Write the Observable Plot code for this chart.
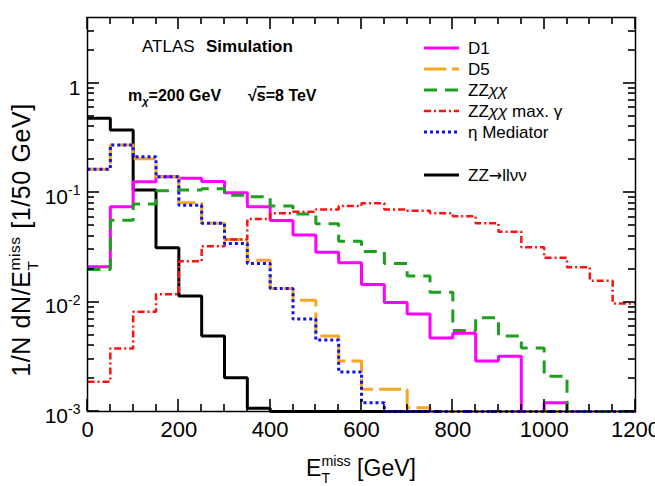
<!DOCTYPE html>
<html>
<head>
<meta charset="utf-8">
<script src="https://cdn.jsdelivr.net/npm/d3@7"></script>
<script src="https://cdn.jsdelivr.net/npm/@observablehq/plot@0.6"></script>
<style>
  body { margin: 0; background: #fff; }
  #chart svg { display: block; font-family: 'Liberation Sans', Arial, Helvetica, sans-serif; }
</style>
</head>
<body>
<div id="chart"></div>
<script>
// Missing transverse momentum, normalised to unit area, 50 GeV bins from 0 to 1200 GeV.
const binLow = [0, 50, 100, 150, 200, 250, 300, 350, 400, 450, 500, 550,
                600, 650, 700, 750, 800, 850, 900, 950, 1000, 1050, 1100, 1150];
const xRange = [0, 1200];
const yRange = [1e-3, 4];

const d1 = [0.021, 0.0745, 0.126, 0.140, 0.136, 0.127, 0.100, 0.0745, 0.0556, 0.041, 0.0285, 0.0229,
            0.0145, 0.0099, 0.0078, 0.0047, 0.0052, 0.0029, 0.0032, 0, 0.0012, 0, 0, 0];
const d5 = [0.164, 0.273, 0.205, 0.140, 0.081, 0.0525, 0.0373, 0.0242, 0.0133, 0.0104, 0.0049, 0.0029,
            0.0016, 0.0016, 0.00108, 0, 0, 0, 0, 0, 0, 0, 0, 0];
const zzxx = [0.0199, 0.056, 0.079, 0.104, 0.106, 0.109, 0.095, 0.092, 0.0755, 0.064, 0.052, 0.036,
              0.029, 0.0226, 0.0173, 0.0123, 0.0055, 0.0072, 0.0049, 0.0038, 0.0021, 0, 0, 0];
const zzxxMaxGamma = [0.00187, 0.00377, 0.00815, 0.0118, 0.0237, 0.0325, 0.0373, 0.0574, 0.065, 0.067, 0.0704, 0.0755,
                      0.080, 0.0704, 0.0685, 0.065, 0.061, 0.0526, 0.0439, 0.0317, 0.0254, 0.0208, 0.0157, 0.0097];
const etaMediator = [0.164, 0.273, 0.213, 0.140, 0.077, 0.0525, 0.0344, 0.0226, 0.0133, 0.0070, 0.0045, 0.0023,
                     0.0012, 0, 0, 0, 0, 0, 0, 0, 0, 0, 0, 0];
const zzToLLNuNu = [0.48, 0.375, 0.106, 0.0314, 0.0114, 0.0049, 0.00203, 0.00107, 0, 0, 0, 0,
                    0, 0, 0, 0, 0, 0, 0, 0, 0, 0, 0, 0];

const xMajor = [0, 200, 400, 600, 800, 1000, 1200];
const xMinor = [50, 100, 150, 250, 300, 350, 450, 500, 550, 650, 700, 750, 850, 900, 950, 1050, 1100, 1150];
const yMajor = [1e-3, 1e-2, 1e-1, 1];
const yMinor = [2e-3, 3e-3, 4e-3, 5e-3, 6e-3, 7e-3, 8e-3, 9e-3,
                2e-2, 3e-2, 4e-2, 5e-2, 6e-2, 7e-2, 8e-2, 9e-2,
                0.2, 0.3, 0.4, 0.5, 0.6, 0.7, 0.8, 0.9, 2, 3];

// Legend order; "z" sets the drawing order (higher sits on top).
const series = [
  {label: [["D1"]],                           values: d1,           stroke: "#ff00ff", width: 3,   dash: null,      z: 1},
  {label: [["D5"]],                           values: d5,           stroke: "#f5a623", width: 3,   dash: "22,6",    z: 2},
  {label: [["ZZ"], ["χχ", "i"]],              values: zzxx,         stroke: "#1f9f1f", width: 3,   dash: "13,8",    z: 3},
  {label: [["ZZ"], ["χχ", "i"], [" max. γ"]], values: zzxxMaxGamma, stroke: "#ff1010", width: 2.5, dash: "7,3,2,3", z: 4},
  {label: [["η Mediator"]],                   values: etaMediator,  stroke: "#1010f0", width: 3,   dash: "3,3",     z: 5},
  {label: [["ZZ"], ["→", "arrow"], ["llνν"]], values: zzToLLNuNu,   stroke: "#000000", width: 3,   dash: null,      z: 0}
];

// Histogram outline: one point per bin edge, empty bins rest on the lower edge.
function outline(s) {
  const pts = binLow.map((x, i) => ({x, y: Math.max(s.values[i], yRange[0])}));
  pts.push({x: xRange[1], y: Math.max(s.values[s.values.length - 1], yRange[0])});
  return pts;
}

const fmtPow = v => v === 1 ? "1" : "10^" + Math.round(Math.log10(v));

const plot = Plot.plot({
  width: 655,
  height: 486,
  marginLeft: 87,
  marginRight: 20,
  marginTop: 17,
  marginBottom: 75,
  x: {domain: xRange, label: null},
  y: {type: "log", domain: yRange, label: null},
  marks: [
    ...[...series].sort((a, b) => a.z - b.z).map(s => Plot.line(outline(s), {
      x: "x", y: "y", curve: "step-after",
      stroke: s.stroke, strokeWidth: s.width, strokeDasharray: s.dash,
      strokeLinejoin: "miter", strokeLinecap: "butt"
    })),
    Plot.frame({stroke: "#000", strokeWidth: 1.5}),
    Plot.axisX({anchor: "bottom", ticks: xMajor, tickSize: 0, tickPadding: 10, fontSize: 22, label: null,
                tickFormat: d => String(d)}),
    Plot.axisY({anchor: "left", ticks: yMajor, tickSize: 0, tickPadding: 7, fontSize: 21, label: null,
                tickFormat: fmtPow, dy: 4.5})
  ]
});

document.getElementById("chart").appendChild(plot);

const svg = d3.select(plot);
const FONT = "'Liberation Sans', Arial, Helvetica, sans-serif";
const sx = plot.scale("x"), sy = plot.scale("y");
const frameL = sx.apply(xRange[0]), frameR = sx.apply(xRange[1]);
const frameB = sy.apply(yRange[0]), frameT = sy.apply(yRange[1]);

// Inward ticks on all four sides, placed through the plot's scales.
{
  const g = svg.append("g").attr("aria-label", "inner ticks");
  const tick = (x1, y1, x2, y2) => g.append("line")
    .attr("x1", x1).attr("y1", y1).attr("x2", x2).attr("y2", y2)
    .attr("stroke", "#000").attr("stroke-width", 1.6).attr("stroke-linecap", "butt");
  const xt = [...xMajor.map(v => [v, 12]), ...xMinor.map(v => [v, 7])];
  for (const [v, len] of xt) {
    const px = Math.round(sx.apply(v));
    tick(px, frameB, px, frameB - len);
    tick(px, frameT, px, frameT + len);
  }
  const yt = [...yMajor.map(v => [v, 12]), ...yMinor.map(v => [v, 7])];
  for (const [v, len] of yt) {
    const py = Math.round(sy.apply(v));
    tick(frameL, py, frameL + len, py);
    tick(frameR, py, frameR - len, py);
  }
}

// Powers of ten as superscripts.
svg.selectAll("text").each(function () {
  const m = /^10\^(-?\d+)$/.exec(this.textContent);
  if (!m) return;
  const sel = d3.select(this);
  sel.text("10");
  sel.append("tspan").attr("font-size", 14).attr("dy", -8.5).text(m[1]);
});

// Text with a stacked subscript/superscript, e.g. E_T^miss.
function stackedRun(text, size, base, sub, sup) {
  text.append("tspan").text(base);
  const s = text.append("tspan").attr("font-size", size * 0.62).attr("dy", size * 0.3).text(sub);
  const w = s.node().getComputedTextLength();
  text.append("tspan").attr("font-size", size * 0.62).attr("dx", -w).attr("dy", -size * 0.72).text(sup);
  return size * 0.42; // shift back to the baseline
}

const label = (x, y, size) => svg.append("text")
  .attr("x", x).attr("y", y)
  .attr("text-anchor", "start")
  .attr("font-family", FONT).attr("font-size", size).attr("fill", "#000");

// x-axis title
{
  const size = 23;
  const t = label((frameL + frameR) / 2, 476, size).attr("text-anchor", "middle");
  const back = stackedRun(t, size, "E", "T", "miss");
  t.append("tspan").attr("dy", back).text(" [GeV]");
}

// y-axis title
{
  const size = 25;
  const t = label(0, 0, size).attr("text-anchor", "middle")
    .attr("letter-spacing", 0.6)
    .attr("transform", "translate(30,240) rotate(-90)");
  const back = stackedRun(t, size, "1/N dN/E", "T", "miss");
  t.append("tspan").attr("dy", back).text(" [1/50 GeV]");
}

// Experiment label
{
  const t = label(142, 52, 17);
  t.append("tspan").text("ATLAS");
  t.append("tspan").attr("x", 206).attr("font-weight", "bold").text("Simulation");
}

// Signal mass and centre-of-mass energy
{
  const t = label(128, 101, 16).attr("font-weight", "bold");
  t.append("tspan").text("m");
  t.append("tspan").attr("font-size", 11).attr("dy", 4).attr("font-style", "italic").text("χ");
  t.append("tspan").attr("dy", -4).text("=200 GeV");
  t.append("tspan").attr("x", 248).text("√");
  t.append("tspan").attr("text-decoration", "overline").text("s");
  t.append("tspan").text("=8 TeV");
}

// Legend
{
  const rowsY = [48, 69, 90, 111, 132, 175];
  series.forEach((s, i) => {
    const y = rowsY[i];
    svg.append("line").attr("x1", 424).attr("x2", 459).attr("y1", y).attr("y2", y)
      .attr("stroke", s.stroke).attr("stroke-width", s.width)
      .attr("stroke-dasharray", s.dash).attr("stroke-linecap", "butt");
    const t = label(468, y + 6, 17);
    s.label.forEach(([txt, style]) => {
      const sp = t.append("tspan").text(txt);
      if (style === "i") sp.attr("font-style", "italic");
      if (style === "arrow") sp.attr("font-family", "'DejaVu Sans', sans-serif").attr("font-size", 16);
    });
  });
}
</script>
</body>
</html>
